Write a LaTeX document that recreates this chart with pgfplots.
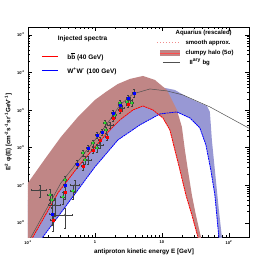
\documentclass[border=0pt]{standalone}
\usepackage{fontspec}
\setmainfont{Liberation Sans}
\usepackage{pgfplots}
\pgfplotsset{compat=1.18}

\definecolor{brownband}{RGB}{192,134,134}
\definecolor{blueband}{RGB}{152,152,212}
\definecolor{pgreen}{RGB}{40,225,40}
\definecolor{smoothpink}{RGB}{240,140,140}
\definecolor{bggray}{RGB}{80,80,80}

\pgfplotsset{databar/.style={only marks,
  error bars/x dir=both, error bars/x explicit relative,
  error bars/y dir=both, error bars/y explicit relative,
  error bars/error bar style={line width=0.3pt, black!75},
  error bars/error mark options={rotate=90, mark size=0.8pt, black!75}}}

\begin{document}
\begin{tikzpicture}
\begin{axis}[
  at={(0,0)}, anchor=south west,
  scale only axis, width=221pt, height=210pt,
  xmode=log, ymode=log,
  xmin=0.1, xmax=200, ymin=4.2e-9, ymax=1.63e-3,
  xtick={0.1,1,10,100},
  xticklabels={10\textsuperscript{-1},1,10,10\textsuperscript{2}},
  ytick={1e-8,1e-7,1e-6,1e-5,1e-4,1e-3},
  yticklabels={10\textsuperscript{-8},10\textsuperscript{-7},10\textsuperscript{-6},10\textsuperscript{-5},10\textsuperscript{-4},10\textsuperscript{-3}},
  ticklabel style={font=\fontsize{4}{4}\selectfont\bfseries},
  major tick length=4pt, minor tick length=2pt,
  axis line style={line width=0.6pt},
  every tick/.style={black, line width=0.4pt},
  xlabel={antiproton kinetic energy E [GeV]},
  ylabel={E\textsuperscript{2} φ(E) [cm\textsuperscript{-2}s\textsuperscript{-1}sr\textsuperscript{-1}GeV\textsuperscript{-1}]},
  label style={font=\fontsize{6.3}{7}\selectfont\bfseries},
  xlabel style={at={(axis description cs:0.525,-0.04)}, anchor=north},
  ylabel style={at={(axis description cs:-0.058,0.5)}, anchor=south},
]
% clumpy halo band, W+W- (100 GeV)
\addplot[fill=blueband, draw=none] coordinates {
(0.1,4.09e-8) (0.3108,8.74e-7) (1.0,7.45e-6) (2.205,1.87e-5) (4.694,3.44e-5)
(9.335,4.14e-5) (15.63,3.44e-5) (23.6,2.24e-5) (36.9,1.55e-5) (46.94,1.29e-5)
(52.04,8.95e-6) (53.8,4.04e-6) (55.75,1.61e-6) (59.7,4.74e-7) (63.97,1.39e-7)
(70.9,2.22e-8) (78.6,4.24e-9) (81.3,3.1e-9)
(73.5,3.1e-9) (70.9,4.24e-9) (61.8,5.56e-8) (53.8,2.57e-7) (45.4,1.19e-6)
(36.9,3.36e-6) (26.17,6.2e-6) (16.74,8.95e-6) (9.335,7.92e-6) (4.694,4.04e-6)
(2.205,1.61e-6) (1.0,3.09e-7) (0.5575,7.55e-8) (0.1675,4.24e-9) (0.151,3.1e-9)
(0.1,3.1e-9)};
% clumpy halo band, b bbar (40 GeV)
\addplot[fill=brownband, draw=none] coordinates {
(0.1,1.16e-7) (0.1795,5.04e-7) (0.3108,1.94e-6) (0.5575,6.59e-6) (1.0,1.87e-5)
(1.459,3.05e-5) (2.205,4.97e-5) (3.33,6.76e-5) (5.204,8.12e-5) (7.862,6.35e-5)
(11.87,3.44e-5) (16.74,1.01e-5) (19.89,3.57e-6) (22.05,8.74e-7) (24.44,2.57e-7)
(28.03,5.56e-8) (32.17,1.63e-8) (38.2,4.24e-9) (40,2.0e-9)
(35.7,3.1e-9) (34.45,4.24e-9) (28.03,1.63e-8) (22.82,5.56e-8) (18.56,2.57e-7)
(15.63,8.74e-7) (13.16,2.97e-6) (10.35,6.2e-6) (7.34,1.01e-5) (5.204,1.29e-5)
(3.692,1.01e-5) (2.361,5.49e-6) (1.733,3.16e-6) (1.0,1.05e-6) (0.5575,3.09e-7)
(0.2806,6.28e-8) (0.1188,4.24e-9) (0.107,3.1e-9) (0.1,3.1e-9)};
% secondary background
\addplot[bggray, line width=0.5pt] coordinates {
(0.1,3.0e-9) (0.1272,6.51e-9) (0.3108,1.16e-7) (1.0,1.61e-6) (1.675,5.49e-6)
(2.361,1.37e-5) (3.692,2.70e-5) (6.622,3.66e-5) (11.87,3.24e-5) (20.6,2.54e-5)
(52.04,1.22e-5) (200,3.3e-6)};
% smooth W+W-
\addplot[blue, line width=0.8pt, dash pattern=on 2pt off 0.6pt] coordinates {
(0.151,3.1e-9) (0.1675,4.24e-9) (0.5575,7.55e-8) (1.0,3.09e-7) (2.205,1.61e-6)
(4.694,4.04e-6) (9.335,7.92e-6) (16.74,8.95e-6) (26.17,6.2e-6) (36.9,3.36e-6)
(45.4,1.19e-6) (53.8,2.57e-7) (61.8,5.56e-8) (70.9,4.24e-9) (73.5,3.1e-9)};
% smooth b bbar
\addplot[red, line width=0.8pt, dash pattern=on 2pt off 0.6pt] coordinates {
(0.107,3.1e-9) (0.1188,4.24e-9) (0.2806,6.28e-8) (0.5575,3.09e-7) (1.0,1.05e-6)
(1.733,3.16e-6) (2.361,5.49e-6) (3.692,1.01e-5) (5.204,1.29e-5) (7.34,1.01e-5)
(10.35,6.2e-6) (13.16,2.97e-6) (15.63,8.74e-7) (18.56,2.57e-7) (22.82,5.56e-8)
(28.03,1.63e-8) (34.45,4.24e-9) (35.7,3.1e-9)};
% data
\addplot[databar, mark=o, mark size=1.0pt, mark options={black!70, line width=0.3pt}]
 table[x=x, y=y, x error=ex, y error=ey] {
x y ex ey
0.151 7.55e-8 0.25 0.35
0.253 3.01e-8 0.20 0.5
0.357 1.63e-8 0.30 0.55
0.503 1.03e-7 0.15 0.35
0.786 4.74e-7 0.12 0.25
1.187 1.19e-6 0.12 0.2
1.675 4.04e-6 0.10 0.18
2.529 1.14e-5 0.08 0.18
3.33 1.87e-5 0.08 0.18
};
\addplot[databar, mark=*, mark size=1.2pt, mark options={pgreen, draw=pgreen}]
 table[x=x, y=y, x error=ex, y error=ey] {
x y ex ey
0.213 5.56e-8 0.08 0.4
0.228 4.09e-8 0.08 0.4
0.333 4.91e-8 0.08 0.35
0.469 7.1e-8 0.08 0.4
0.357 1.39e-7 0.06 0.25
0.662 7.27e-7 0.06 0.2
0.709 4.74e-7 0.06 0.25
0.934 1.34e-6 0.06 0.2
1.071 9.88e-7 0.06 0.25
1.41 4.57e-6 0.05 0.18
1.459 2.97e-6 0.05 0.2
1.988 7.45e-6 0.05 0.18
2.361 1.55e-5 0.05 0.18
3.003 1.65e-5 0.05 0.18
3.566 1.55e-5 0.05 0.2
};
\addplot[databar, mark=square*, mark size=1.0pt, mark options={blue, draw=blue}]
 table[x=x, y=y, x error=ex, y error=ey] {
x y ex ey
0.228 1.73e-8 0.08 0.5
0.357 1.03e-7 0.06 0.35
0.539 3.71e-7 0.06 0.25
0.786 9.88e-7 0.06 0.2
1.071 2.19e-6 0.05 0.18
1.272 2.63e-6 0.05 0.18
1.857 8.43e-6 0.05 0.18
2.361 1.37e-5 0.05 0.18
3.108 2.11e-5 0.05 0.18
3.82 2.87e-5 0.05 0.25
};
\addplot[databar, mark=square*, mark size=1.0pt, mark options={red, draw=red}]
 table[x=x, y=y, x error=ex, y error=ey] {
x y ex ey
0.236 1.2e-8 0.08 0.5
0.357 6.68e-8 0.06 0.35
0.662 3.28e-7 0.06 0.25
0.934 8.74e-7 0.05 0.2
1.187 1.61e-6 0.05 0.18
1.51 1.94e-6 0.05 0.18
1.857 6.2e-6 0.05 0.18
2.361 1.01e-5 0.05 0.18
3.108 1.46e-5 0.05 0.18
};
% legend samples
\addplot[red, line width=1pt, mark=none] coordinates {(0.1618,2.6e-4) (0.2806,2.6e-4)};
\addplot[blue, line width=1pt, mark=none] coordinates {(0.1618,1.10e-4) (0.2806,1.10e-4)};
\addplot[smoothpink, line width=1pt, dotted, mark=none] coordinates {(8.41,6.12e-4) (17.35,6.12e-4)};
\addplot[fill=brownband, draw=none] coordinates {(9.33,2.76e-4) (18.56,2.76e-4) (18.56,3.99e-4) (9.33,3.99e-4)};
\addplot[red!70, line width=0.7pt, mark=none] coordinates {(9.33,3.32e-4) (18.56,3.32e-4)};
\addplot[bggray, line width=0.5pt, mark=none] coordinates {(10.35,1.91e-4) (18.56,1.91e-4)};
% legend texts
\begin{scope}[every node/.style={font=\fontsize{6.5}{7}\selectfont\bfseries, inner sep=0pt}]
\node at (rel axis cs:0.247,0.943) {Injected spectra};
\node[anchor=west] at (rel axis cs:0.177,0.857) {b$\overline{\mbox{b}}$ (40 GeV)};
\node[anchor=west] at (rel axis cs:0.177,0.790) {W\textsuperscript{+}W\textsuperscript{-} (100 GeV)};
\end{scope}
\begin{scope}[every node/.style={font=\fontsize{6}{6.5}\selectfont\bfseries, inner sep=0pt}]
\node at (rel axis cs:0.795,0.972) {Aquarius (rescaled)};
\node[anchor=west] at (rel axis cs:0.712,0.924) {smooth approx.};
\node[anchor=west] at (rel axis cs:0.712,0.876) {clumpy halo (5σ)};
\node[anchor=west] at (rel axis cs:0.730,0.833) {II\textsuperscript{ary} bg};
\end{scope}
\end{axis}
\pgfresetboundingbox
\path[use as bounding box] (-28pt,-28pt) rectangle (250pt,237pt);
\end{tikzpicture}
\end{document}
